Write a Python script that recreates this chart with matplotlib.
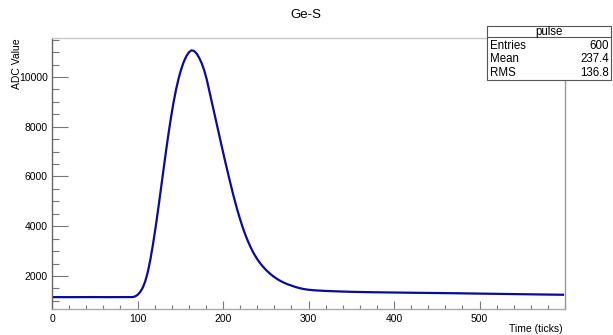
import matplotlib
matplotlib.use("Agg")
import matplotlib.pyplot as plt
from matplotlib.ticker import MultipleLocator, FixedLocator
from matplotlib.patches import Rectangle
from matplotlib.lines import Line2D

plt.rcParams['font.family'] = ['Liberation Sans', 'DejaVu Sans']

# ---- data ----
time_ticks = [0, 10, 20, 30, 40, 50, 60, 70, 80, 90, 94,
              97, 100, 103, 106, 109, 112, 115, 118, 121, 124,
              127, 130, 133, 136, 139, 142, 145, 148, 151, 154,
              157, 160, 163, 166, 169, 172, 175, 178, 181, 184,
              187, 190, 193, 196, 199, 202, 205, 208, 211, 214,
              217, 220, 223, 226, 229, 232, 235, 238, 241, 244,
              247, 250, 253, 256, 259, 262, 265, 268, 271, 274,
              277, 280, 285, 290, 295, 300, 305, 310, 320, 330,
              340, 350, 375, 400, 425, 450, 475, 500, 525, 550,
              575, 599]
adc_values = [1150, 1150, 1149, 1150, 1151, 1152, 1150, 1150, 1151, 1152, 1153,
              1175, 1240, 1350, 1520, 1780, 2150, 2650, 3250, 3920, 4640,
              5400, 6170, 6930, 7660, 8340, 8950, 9480, 9930, 10300, 10600,
              10830, 10990, 11070, 11050, 10950, 10780, 10560, 10270, 9900, 9440,
              8980, 8520, 8060, 7600, 7140, 6690, 6250, 5820, 5400, 5000,
              4630, 4280, 3960, 3670, 3410, 3180, 2970, 2790, 2630, 2490,
              2365, 2255, 2155, 2065, 1983, 1910, 1845, 1787, 1735, 1690,
              1650, 1615, 1555, 1508, 1472, 1447, 1430, 1418, 1400, 1386,
              1374, 1364, 1347, 1335, 1325, 1315, 1305, 1292, 1280, 1268,
              1255, 1245]

title = "Ge-S"
hist_name = "pulse"
stats_labels = ["Entries", "Mean", "RMS"]
stats_values = ["600", "237.4", "136.8"]
x_label = "Time (ticks)"
y_label = "ADC Value"
x_major_ticks = [0, 100, 200, 300, 400, 500]

W, H = 613, 335
fig = plt.figure(figsize=(W / 100, H / 100), dpi=100)

def fx(px):
    return px / W

def fy(py):
    return 1 - py / H

L, R, T, B = 52, 565, 38, 309
ax = fig.add_axes([fx(L), fy(B), fx(R) - fx(L), fy(T) - fy(B)])

ax.plot(time_ticks, adc_values, color='#0a0a9c', lw=1.6,
        solid_joinstyle='round', solid_capstyle='butt')

ax.set_xlim(0, 600)
ax.set_ylim(673, 11568)

ax.xaxis.set_major_locator(FixedLocator(x_major_ticks))
ax.xaxis.set_minor_locator(MultipleLocator(20))
ax.yaxis.set_major_locator(MultipleLocator(2000))
ax.yaxis.set_minor_locator(MultipleLocator(500))

ax.tick_params(axis='x', which='major', direction='in', length=5.5, width=0.8,
               color='#777777', labelsize=7.5, pad=3.5, top=False)
ax.tick_params(axis='x', which='minor', direction='in', length=2.8, width=0.8,
               color='#777777', top=False)
ax.tick_params(axis='y', which='major', direction='in', length=11.5, width=0.8,
               color='#777777', labelsize=7.5, pad=3, right=False)
ax.tick_params(axis='y', which='minor', direction='in', length=5, width=0.8,
               color='#777777', right=False)

ax.spines['left'].set_color('#666666')
ax.spines['bottom'].set_color('#aaaaaa')
ax.spines['top'].set_color('#c8c8c8')
ax.spines['right'].set_color('#999999')
for s in ax.spines.values():
    s.set_linewidth(1.0)

fig.text(fx(306), fy(15), title, ha='center', va='center', fontsize=9.5)
fig.text(fx(17), fy(38), y_label, rotation=90, ha='center', va='top', fontsize=7.5)
fig.text(fx(563), fy(329), x_label, ha='right', va='center', fontsize=7.5)

# stats box
bx0, bx1, by0, by1, bsep = 487, 611, 26, 80, 37
fig.patches.append(Rectangle((fx(bx0), fy(by1)), fx(bx1) - fx(bx0), fy(by0) - fy(by1),
                             transform=fig.transFigure, facecolor='white',
                             edgecolor='#555555', lw=0.8, zorder=5))
fig.lines.append(Line2D([fx(bx0), fx(bx1)], [fy(bsep), fy(bsep)],
                        transform=fig.transFigure, color='#555555', lw=0.8, zorder=6))
fig.text(fx(549), fy(31.5), hist_name, ha='center', va='center', fontsize=8.3, zorder=7)
rows_y = [46, 59.5, 73]
for lab, val, yy in zip(stats_labels, stats_values, rows_y):
    fig.text(fx(490), fy(yy), lab, ha='left', va='center', fontsize=8.3, zorder=7)
    fig.text(fx(609), fy(yy), val, ha='right', va='center', fontsize=8.3, zorder=7)

fig.savefig("out.png", dpi=100)
